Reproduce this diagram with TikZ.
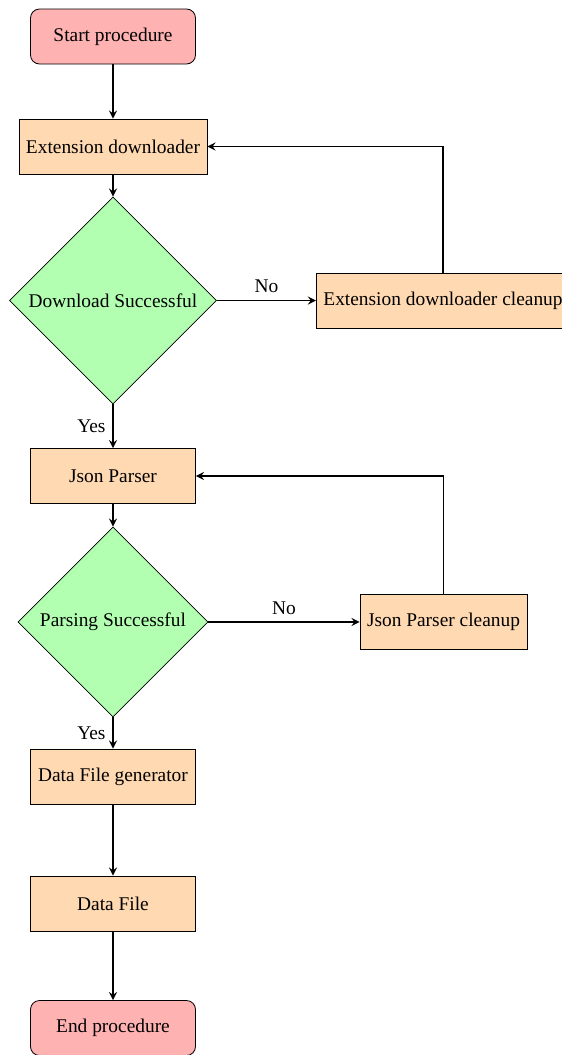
\documentclass[tikz,border=0pt]{standalone}
\usepackage{fontspec}
\setmainfont{Liberation Serif}
\usetikzlibrary{shapes.geometric,arrows}

\tikzset{
  startstop/.style={rectangle, rounded corners=4.5pt, minimum width=82.5pt, minimum height=27.5pt, inner xsep=3.5pt, draw=black, fill=red!30},
  process/.style={rectangle, minimum width=82.5pt, minimum height=27.5pt, inner xsep=3.5pt, draw=black, fill=orange!30},
  decision/.style={diamond, minimum size=#1, inner sep=0pt, draw=black, fill=green!30},
  arrow/.style={thick, ->, >=stealth}
}

\begin{document}
\begin{tikzpicture}[x=0.5pt, y=-0.5pt, font=\fontsize{9.7}{11.6}\selectfont]
			\clip (0,0) rectangle (562,1055);

			% Main column
			\node[startstop] (start) at (113,36.5) {Start procedure};
			\node[process] (download) at (113,146.5) {Extension downloader};
			\node[decision=103.5pt] (dlok) at (113,300.5) {Download Successful};
			\node[process] (json) at (113,476) {Json Parser};
			\node[decision=95pt] (parseok) at (113,622) {Parsing Successful};
			\node[process] (datagen) at (113,776.5) {Data File generator};
			\node[process] (datafile) at (113,903.5) {Data File};
			\node[startstop] (stop) at (113,1028) {End procedure};

			% Cleanup steps
			\node[process, anchor=west] (dlclean) at (316,300.5) {Extension downloader cleanup};
			\node[process] (jsonclean) at (443.5,622) {Json Parser cleanup};

			% Arrows
			\draw[arrow] (start) -- (download);
			\draw[arrow] (download) -- (dlok);
			\draw[arrow] (dlok) -- node[above] {No} (dlclean);
			\draw[arrow] (dlclean.north) |- (download.east);
			\draw[arrow] (dlok) -- node[left] {Yes} (json);
			\draw[arrow] (json) -- (parseok);
			\draw[arrow] (parseok) -- node[above] {No} (jsonclean);
			\draw[arrow] (jsonclean.north) |- (json.east);
			\draw[arrow] (parseok) -- node[left] {Yes} (datagen);
			\draw[arrow] (datagen) -- (datafile);
			\draw[arrow] (datafile) -- (stop);
		\end{tikzpicture}
\end{document}
